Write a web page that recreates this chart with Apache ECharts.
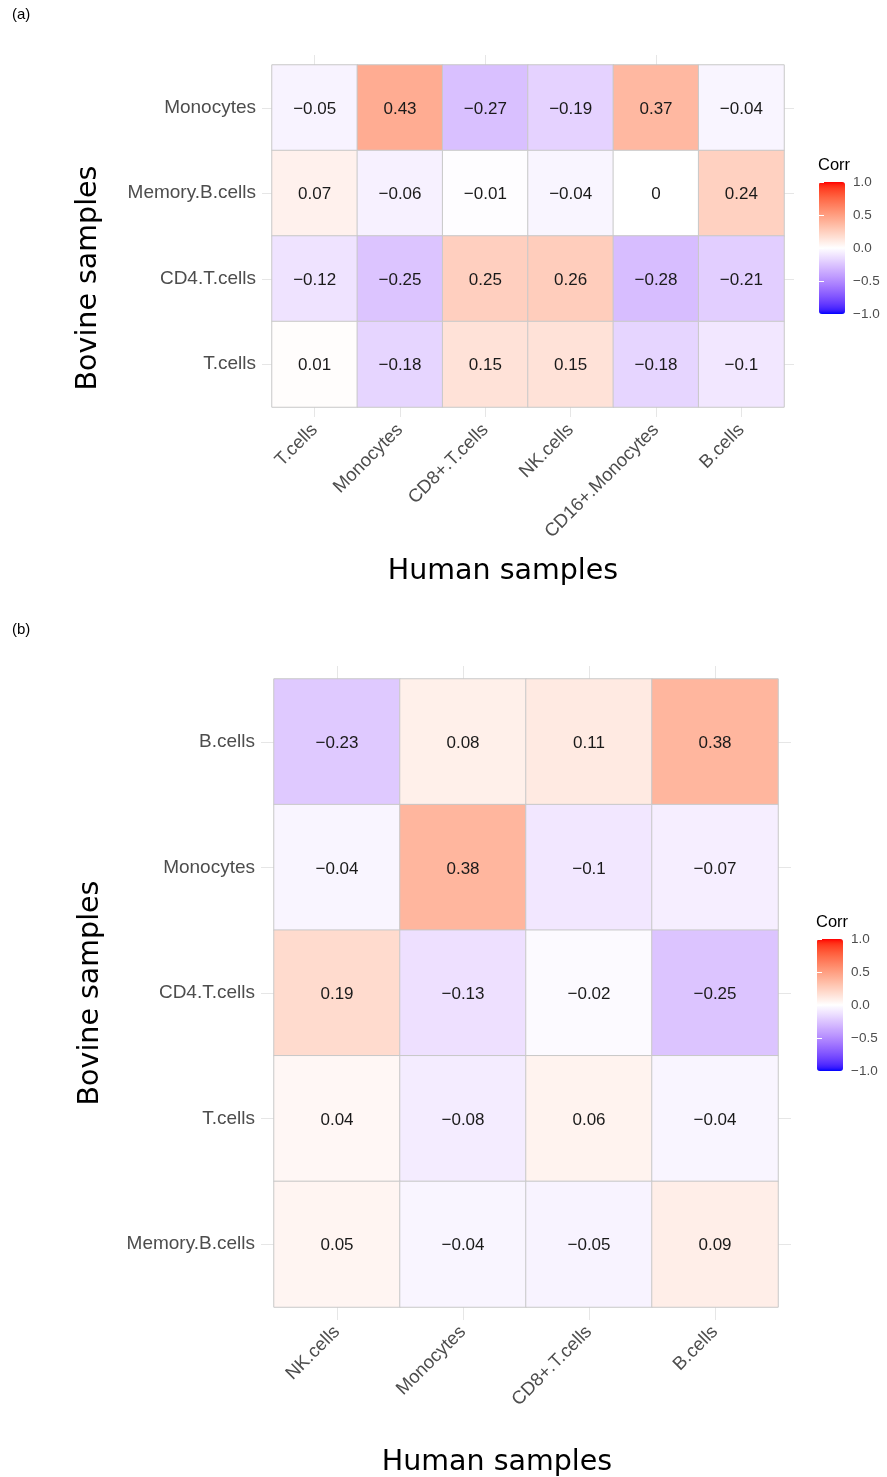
<!DOCTYPE html>
<html>
<head>
<meta charset="utf-8">
<script src="https://cdn.jsdelivr.net/npm/echarts@6/dist/echarts.min.js"></script>
<style>
  html, body { margin: 0; padding: 0; background: #ffffff; }
  #chart { width: 887px; height: 1477px; }
</style>
</head>
<body>
<div id="chart"></div>
<script>
// Panel (a): human cell types (columns) vs bovine cell types (rows, top to bottom)
const aHuman = ['T.cells', 'Monocytes', 'CD8+.T.cells', 'NK.cells', 'CD16+.Monocytes', 'B.cells'];
const aBovine = ['Monocytes', 'Memory.B.cells', 'CD4.T.cells', 'T.cells'];
const aMonocytes = [-0.05, 0.43, -0.27, -0.19, 0.37, -0.04];
const aMemoryB = [0.07, -0.06, -0.01, -0.04, 0, 0.24];
const aCD4T = [-0.12, -0.25, 0.25, 0.26, -0.28, -0.21];
const aTcells = [0.01, -0.18, 0.15, 0.15, -0.18, -0.1];

// Panel (b)
const bHuman = ['NK.cells', 'Monocytes', 'CD8+.T.cells', 'B.cells'];
const bBovine = ['B.cells', 'Monocytes', 'CD4.T.cells', 'T.cells', 'Memory.B.cells'];
const bBcells = [-0.23, 0.08, 0.11, 0.38];
const bMonocytes = [-0.04, 0.38, -0.1, -0.07];
const bCD4T = [0.19, -0.13, -0.02, -0.25];
const bTcells = [0.04, -0.08, 0.06, -0.04];
const bMemoryB = [0.05, -0.04, -0.05, 0.09];

// Colour bar tick labels
const corrTicks = [-1, -0.5, 0, 0.5, 1];

const aRowsData = [aMonocytes, aMemoryB, aCD4T, aTcells];
const bRowsData = [bBcells, bMonocytes, bCD4T, bTcells, bMemoryB];

function toCells(rows) {
  const out = [];
  rows.forEach((row, r) => row.forEach((v, c) => out.push([c, r, v])));
  return out;
}

// Diverging blue-white-red scale interpolated in CIE Lab
function srgbToLin(c) { c /= 255; return c <= 0.04045 ? c / 12.92 : Math.pow((c + 0.055) / 1.055, 2.4); }
function linToSrgb(c) { c = c <= 0.0031308 ? 12.92 * c : 1.055 * Math.pow(c, 1 / 2.4) - 0.055; return Math.round(Math.min(1, Math.max(0, c)) * 255); }
function rgbToLab(rgb) {
  const [r, g, b] = rgb.map(srgbToLin);
  let x = (0.4124 * r + 0.3576 * g + 0.1805 * b) / 0.95047;
  let y = (0.2126 * r + 0.7152 * g + 0.0722 * b);
  let z = (0.0193 * r + 0.1192 * g + 0.9505 * b) / 1.08883;
  const f = t => t > 0.008856 ? Math.cbrt(t) : 7.787 * t + 16 / 116;
  x = f(x); y = f(y); z = f(z);
  return [116 * y - 16, 500 * (x - y), 200 * (y - z)];
}
function labToRgb(lab) {
  const [L, A, B] = lab;
  let y = (L + 16) / 116, x = A / 500 + y, z = y - B / 200;
  const fi = t => t * t * t > 0.008856 ? t * t * t : (t - 16 / 116) / 7.787;
  x = fi(x) * 0.95047; y = fi(y); z = fi(z) * 1.08883;
  const r = 3.2406 * x - 1.5372 * y - 0.4986 * z;
  const g = -0.9689 * x + 1.8758 * y + 0.0415 * z;
  const b = 0.0557 * x - 0.2040 * y + 1.0570 * z;
  return 'rgb(' + [r, g, b].map(linToSrgb).join(',') + ')';
}
const labLow = rgbToLab([0, 0, 255]), labMid = rgbToLab([255, 255, 255]), labHigh = rgbToLab([255, 0, 0]);
const scaleColors = [];
for (let i = 0; i <= 40; i++) {
  const v = -1 + i / 20;
  const end = v < 0 ? labLow : labHigh;
  const t = Math.abs(v);
  scaleColors.push(labToRgb(labMid.map((m, k) => m + (end[k] - m) * t)));
}

const fmt = v => String(v).replace('-', '\u2212');
const axisGray = '#4d4d4d';
const gridLineColor = '#e6e6e6';
const labelFont = 'Liberation Sans, Arial, sans-serif';
const titleFont = 'DejaVu Sans, sans-serif';

const grids = [
  { left: 272, top: 65, width: 512, height: 342, outerBoundsMode: 'none' },
  { left: 274, top: 679, width: 504, height: 628, outerBoundsMode: 'none' },
  { left: 819, top: 182, width: 26, height: 132, outerBoundsMode: 'none' },
  { left: 817, top: 939, width: 26, height: 132, outerBoundsMode: 'none' }
];

function catX(cats, gi, bottom, cfg) {
  return {
    type: 'category', data: cats, gridIndex: gi, position: bottom ? 'bottom' : 'top',
    axisLine: { show: false },
    axisTick: { show: true, alignWithLabel: true, length: cfg.tick, lineStyle: { color: gridLineColor, width: 1 } },
    axisLabel: bottom ? { show: true, rotate: 45, margin: cfg.margin, color: axisGray, fontSize: 18.5, fontFamily: labelFont } : { show: false },
    splitLine: { show: false },
    name: bottom ? 'Human samples' : '', nameLocation: 'middle', nameGap: bottom ? cfg.gap : 0,
    nameTextStyle: { color: '#000', fontSize: 28.5, fontFamily: titleFont, padding: [0, cfg.shift, 0, 0] }
  };
}
function catY(cats, gi, leftSide, cfg) {
  return {
    type: 'category', data: cats, gridIndex: gi, inverse: true, position: leftSide ? 'left' : 'right',
    axisLine: { show: false },
    axisTick: { show: true, alignWithLabel: true, length: cfg.tick, lineStyle: { color: gridLineColor, width: 1 } },
    axisLabel: leftSide ? { show: true, margin: cfg.tick + 6, color: axisGray, fontSize: 19, fontFamily: labelFont, padding: [3, 0, 0, 0] } : { show: false },
    splitLine: { show: false },
    name: leftSide ? 'Bovine samples' : '', nameLocation: 'middle', nameRotate: 90, nameGap: leftSide ? cfg.gap : 0,
    nameTextStyle: { color: '#000', fontSize: 28.5, fontFamily: titleFont, padding: [0, cfg.shift, 0, 0] }
  };
}
function barAxis(gi, rightSide) {
  return {
    type: 'value', gridIndex: gi, min: -1, max: 1, interval: 0.5, position: rightSide ? 'right' : 'left', z: 10,
    axisLine: { show: false },
    axisTick: { show: true, inside: true, length: 5, lineStyle: { color: '#ffffff', width: 1 } },
    axisLabel: rightSide ? {
      show: true, margin: 8, color: axisGray, fontSize: 13.5, fontFamily: labelFont,
      formatter: v => corrTicks.includes(v) ? fmt(v.toFixed(1)) : ''
    } : { show: false },
    splitLine: { show: false }
  };
}
function hiddenX(gi) {
  return { type: 'value', gridIndex: gi, min: 0, max: 1, show: false };
}

function heatSeries(xi, yi, data) {
  return {
    type: 'heatmap', xAxisIndex: xi, yAxisIndex: yi, data: data,
    itemStyle: { borderColor: '#c8c8c8', borderWidth: 1 },
    label: {
      show: true, color: '#1a1a1a', fontSize: 17, fontFamily: labelFont, offset: [0, 1.5],
      formatter: p => fmt(p.value[2])
    },
    emphasis: { disabled: true }
  };
}

const aX = { tick: 10, margin: 20, gap: 150, shift: 50 };
const bX = { tick: 13, margin: 22, gap: 141, shift: 58 };
const aY = { tick: 10, gap: 169, shift: 84 };
const bY = { tick: 13, gap: 169, shift: 0 };
const smallTitle = { fontSize: 15, fontWeight: 'normal', color: '#000', fontFamily: labelFont };
const corrTitle = { fontSize: 16.5, fontWeight: 'normal', color: '#000', fontFamily: labelFont };

const option = {
  backgroundColor: '#ffffff',
  animation: false,
  title: [
    { text: '(a)', left: 12, top: 7, padding: 0, textStyle: smallTitle },
    { text: '(b)', left: 12, top: 622, padding: 0, textStyle: smallTitle },
    { text: 'Corr', left: 818, top: 157, padding: 0, textStyle: corrTitle },
    { text: 'Corr', left: 816, top: 914, padding: 0, textStyle: corrTitle }
  ],
  grid: grids,
  xAxis: [
    catX(aHuman, 0, true, aX), catX(aHuman, 0, false, aX),
    catX(bHuman, 1, true, bX), catX(bHuman, 1, false, bX),
    hiddenX(2), hiddenX(3)
  ],
  yAxis: [
    catY(aBovine, 0, true, aY), catY(aBovine, 0, false, aY),
    catY(bBovine, 1, true, bY), catY(bBovine, 1, false, bY),
    barAxis(2, true), barAxis(2, false),
    barAxis(3, true), barAxis(3, false)
  ],
  visualMap: [
    {
      type: 'continuous', min: -1, max: 1, seriesIndex: 0, calculable: false, realtime: false,
      left: 819, top: 182, itemWidth: 26, itemHeight: 132, padding: 0, text: null, showLabel: false,
      inRange: { color: scaleColors }, hoverLink: false
    },
    {
      type: 'continuous', min: -1, max: 1, seriesIndex: 1, calculable: false, realtime: false,
      left: 817, top: 939, itemWidth: 26, itemHeight: 132, padding: 0, text: null, showLabel: false,
      inRange: { color: scaleColors }, hoverLink: false
    }
  ],
  series: [
    heatSeries(0, 0, toCells(aRowsData)),
    heatSeries(2, 2, toCells(bRowsData))
  ]
};

const chart = echarts.init(document.getElementById('chart'), null, { renderer: 'canvas' });
chart.setOption(option);
</script>
</body>
</html>
